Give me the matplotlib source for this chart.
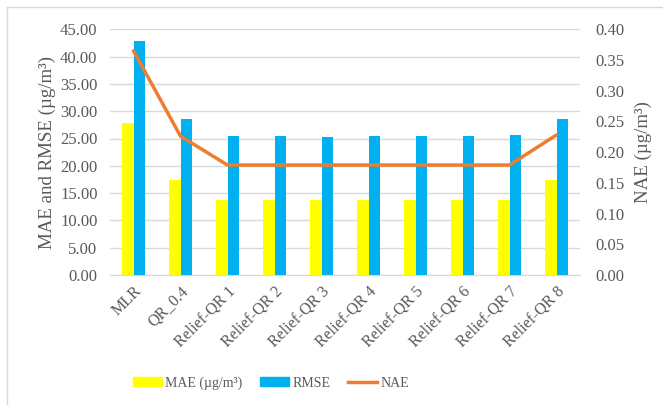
import numpy as np
import matplotlib
matplotlib.use("Agg")
import matplotlib.pyplot as plt
from matplotlib.lines import Line2D

# data
models = ['MLR', 'QR_0.4', 'Relief-QR 1', 'Relief-QR 2', 'Relief-QR 3', 'Relief-QR 4',
          'Relief-QR 5', 'Relief-QR 6', 'Relief-QR 7', 'Relief-QR 8']
mae = [27.8, 17.4, 13.7, 13.7, 13.7, 13.7, 13.7, 13.7, 13.7, 17.4]
rmse = [42.8, 28.5, 25.4, 25.4, 25.2, 25.4, 25.4, 25.4, 25.7, 28.5]
nae = [0.365, 0.226, 0.179, 0.179, 0.179, 0.179, 0.179, 0.179, 0.179, 0.228]

grey = '#595959'
plt.rcParams['font.family'] = ['Liberation Serif', 'DejaVu Serif']
plt.rcParams['text.color'] = grey

fig = plt.figure(figsize=(6.63, 4.05), dpi=100)
ax = fig.add_axes([110/663, 1-275/405, 470/663, (275-29.3)/405])
ax2 = ax.twinx()

x = np.arange(len(models))
w = 0.235
ax.bar(x - w/2, mae, w, color='#ffff00', label='MAE (µg/m³)', zorder=3)
ax.bar(x + w/2, rmse, w, color='#00b0f0', label='RMSE', zorder=3)
ax2.plot(x, nae, color='#ed7d31', lw=2.5, label='NAE', solid_capstyle='round')

ax.set_xlim(-0.5, len(models) - 0.5)
ax.set_ylim(0, 45)
ax.set_yticks(np.arange(0, 45.1, 5))
ax.set_yticklabels([f'{v:.2f}' for v in np.arange(0, 45.1, 5)])
ax2.set_ylim(0, 0.4)
ax2.set_yticks(np.arange(0, 0.401, 0.05))
ax2.set_yticklabels([f'{v:.2f}' for v in np.arange(0, 0.401, 0.05)])

ax.grid(axis='y', color='#d9d9d9', lw=1, zorder=0)
ax.set_axisbelow(True)
for a in (ax, ax2):
    for s in a.spines.values():
        s.set_visible(False)
    a.tick_params(length=0, labelsize=12, labelcolor=grey)
ax.spines['bottom'].set_visible(True)
ax.spines['bottom'].set_color('#d9d9d9')

ax.set_xticks(x)
ax.set_xticklabels(models, rotation=45, ha='right', va='top', rotation_mode='anchor',
                   fontsize=11.5)
ax.tick_params(axis='x', pad=6)
ax.tick_params(axis='y', pad=9)
ax2.tick_params(axis='y', pad=11)

ax.set_ylabel('MAE and RMSE (µg/m³)', fontsize=13.6, color=grey, labelpad=3)
ax2.set_ylabel('NAE (µg/m³)', fontsize=13.6, color=grey, labelpad=7)

handles = [plt.Rectangle((0, 0), 1, 1, color='#ffff00'),
           plt.Rectangle((0, 0), 1, 1, color='#00b0f0'),
           Line2D([0], [0], color='#ed7d31', lw=2.5)]
fig.legend(handles, ['MAE (µg/m³)', 'RMSE', 'NAE'], loc='center', ncol=3,
           bbox_to_anchor=(271/663, 1-383/405), frameon=False, fontsize=10,
           handlelength=2.1, handleheight=0.65, columnspacing=1.25, handletextpad=0.25)

# light border like the exported chart frame
fig.add_artist(Line2D([7/663, 1], [1-7/405, 1-7/405], color='#d9d9d9', lw=1))
fig.add_artist(Line2D([7/663, 7/663], [0, 1-7/405], color='#d9d9d9', lw=1))

fig.savefig('out.png', dpi=100)
